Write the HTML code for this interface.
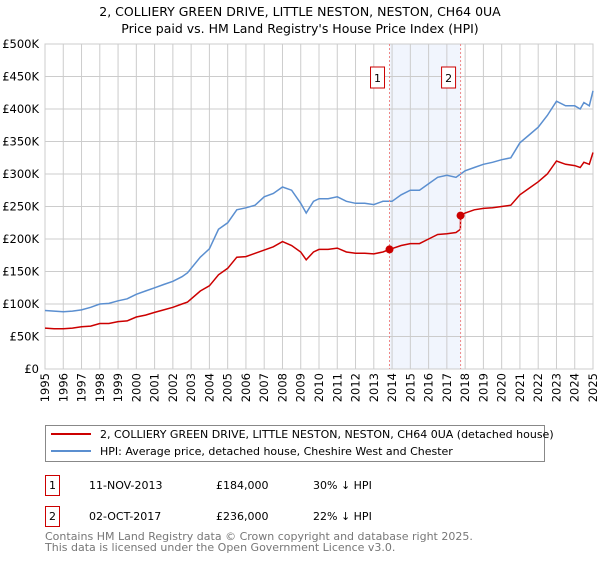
<!DOCTYPE html>
<html><head><meta charset="utf-8"><style>
body{margin:0;background:#fff;font-family:"Liberation Sans","DejaVu Sans",sans-serif}
svg text{font-family:"DejaVu Sans","Liberation Sans",sans-serif}
</style></head><body>
<svg id="c" width="600" height="560" xmlns="http://www.w3.org/2000/svg">
<text x="300" y="16" text-anchor="middle" font-size="12.5">2, COLLIERY GREEN DRIVE, LITTLE NESTON, NESTON, CH64 0UA</text>
<text x="300" y="33" text-anchor="middle" font-size="12.5">Price paid vs. HM Land Registry's House Price Index (HPI)</text>
<g id="grid"></g><g id="series"></g><g id="marks"></g>
<rect x="45.5" y="425.5" width="499" height="36" fill="#fff" stroke="#888"/>
<line x1="51" y1="434" x2="91" y2="434" stroke="#cc0000" stroke-width="2"/>
<text x="100" y="438" font-size="11">2, COLLIERY GREEN DRIVE, LITTLE NESTON, NESTON, CH64 0UA (detached house)</text>
<line x1="51" y1="451" x2="91" y2="451" stroke="#5b8fd0" stroke-width="2"/>
<text x="100" y="455" font-size="11">HPI: Average price, detached house, Cheshire West and Chester</text>
<rect x="45.5" y="475.5" width="14" height="20" fill="none" stroke="#cc0000"/>
<text x="52.5" y="489" font-size="11" text-anchor="middle">1</text>
<text x="89" y="489" font-size="11">11-NOV-2013</text>
<text x="216" y="489" font-size="11">£184,000</text>
<text x="313" y="489" font-size="11">30% ↓ HPI</text>
<rect x="45.5" y="506.5" width="14" height="20" fill="none" stroke="#cc0000"/>
<text x="52.5" y="520" font-size="11" text-anchor="middle">2</text>
<text x="89" y="520" font-size="11">02-OCT-2017</text>
<text x="216" y="520" font-size="11">£236,000</text>
<text x="313" y="520" font-size="11">22% ↓ HPI</text>
<text x="45" y="540" font-size="11" fill="#777">Contains HM Land Registry data © Crown copyright and database right 2025.</text>
<text x="45" y="551" font-size="11" fill="#777">This data is licensed under the Open Government Licence v3.0.</text>
</svg>
<script>
const yearTicks=[1995,1996,1997,1998,1999,2000,2001,2002,2003,2004,2005,2006,2007,2008,2009,2010,2011,2012,2013,2014,2015,2016,2017,2018,2019,2020,2021,2022,2023,2024,2025];
const yTicks=[0,50,100,150,200,250,300,350,400,450,500];
const yTickLabels=["£0","£50K","£100K","£150K","£200K","£250K","£300K","£350K","£400K","£450K","£500K"];
const hpiDates=[1995,1995.5,1996,1996.5,1997,1997.5,1998,1998.5,1999,1999.5,2000,2000.5,2001,2001.5,2002,2002.5,2002.8,2003.5,2004,2004.5,2005,2005.5,2006,2006.5,2007,2007.5,2008,2008.5,2009,2009.3,2009.7,2010,2010.5,2011,2011.5,2012,2012.5,2013,2013.5,2014,2014.5,2015,2015.5,2016,2016.5,2017,2017.5,2018,2018.5,2019,2019.5,2020,2020.5,2021,2021.5,2022,2022.5,2023,2023.5,2024,2024.3,2024.5,2024.8,2025];
const hpiValues=[90,89,88,89,91,95,100,101,105,108,115,120,125,130,135,142,148,172,185,215,225,245,248,252,265,270,280,275,255,240,258,262,262,265,258,255,255,253,258,258,268,275,275,285,295,298,295,305,310,315,318,322,325,348,360,372,390,412,405,405,400,410,405,428];
const ppDates=[1995,1995.5,1996,1996.5,1997,1997.5,1998,1998.5,1999,1999.5,2000,2000.5,2001,2001.5,2002,2002.5,2002.8,2003.5,2004,2004.5,2005,2005.5,2006,2006.5,2007,2007.5,2008,2008.5,2009,2009.3,2009.7,2010,2010.5,2011,2011.5,2012,2012.5,2013,2013.5,2013.86,2014.5,2015,2015.5,2016,2016.5,2017,2017.5,2017.74,2017.75,2018,2018.5,2019,2019.5,2020,2020.5,2021,2021.5,2022,2022.5,2023,2023.5,2024,2024.3,2024.5,2024.8,2025];
const ppValues=[63,62,62,63,65,66,70,70,73,74,80,83,87,91,95,100,103,120,128,145,155,172,173,178,183,188,196,190,180,168,180,184,184,186,180,178,178,177,180,184,190,193,193,200,207,208,210,215,236,240,245,247,248,250,252,268,278,288,300,320,315,313,310,318,315,333];
const saleDates=[2013.86,2017.75];
const salePrices=[184,236];
const saleLabels=["1","2"];
const X0=45,X1=593,Y0=369,Y1=44;
const xs=d=>X0+(d-1995)/30*(X1-X0);
const ys=v=>Y0-v/500*(Y0-Y1);
const NS="http://www.w3.org/2000/svg";
function mk(tag,attrs,parent,txt){const e=document.createElementNS(NS,tag);for(const k in attrs)e.setAttribute(k,attrs[k]);if(txt!==undefined)e.textContent=txt;document.getElementById(parent).appendChild(e);return e;}
const band=mk('rect',{x:xs(saleDates[0]),y:Y1,width:xs(saleDates[1])-xs(saleDates[0]),height:Y0-Y1,fill:'#eef3fc',opacity:0.8},'grid');


yearTicks.forEach(y=>{
 const l=mk('line',{x1:xs(y),x2:xs(y),y1:Y1,y2:Y0,stroke:'#ccc'},'grid');
 
 
 const t=mk('text',{x:0,y:0,'font-size':11.5,'text-anchor':'end',transform:`translate(${xs(y)+4},${Y0+4}) rotate(-90)`},'grid',String(y));
 
 
});
yTicks.forEach((v,i)=>{
 const l=mk('line',{x1:X0,x2:X1,y1:ys(v),y2:ys(v),stroke:'#ccc'},'grid');
 
 
 const t=mk('text',{x:39,y:ys(v)+4,'font-size':11.5,'text-anchor':'end'},'grid',yTickLabels[i]);
 
 
});
const ax=mk('rect',{x:X0,y:Y1,width:X1-X0,height:Y0-Y1,fill:'none',stroke:'#ccc'},'grid');


const hp=mk('path',{d:hpiDates.map((d,i)=>(i?'L':'M')+xs(d).toFixed(1)+','+ys(hpiValues[i]).toFixed(1)).join(''),fill:'none',stroke:'#5b8fd0','stroke-width':1.5},'series');


const pp=mk('path',{d:ppDates.map((d,i)=>(i?'L':'M')+xs(d).toFixed(1)+','+ys(ppValues[i]).toFixed(1)).join(''),fill:'none',stroke:'#cc0000','stroke-width':1.5},'series');


saleDates.forEach((d,i)=>{
 const vl=mk('line',{x1:xs(d),x2:xs(d),y1:Y1,y2:Y0,stroke:'#e88','stroke-dasharray':'2,2'},'marks');
 
 
 const c=mk('circle',{cx:xs(d),cy:ys(salePrices[i]),r:4,fill:'#cc0000'},'marks');
 
 
 const b=mk('rect',{x:xs(d)-19,y:67,width:14,height:21,fill:'#fff',stroke:'#cc0000'},'marks');
 
 
 const t=mk('text',{x:xs(d)-12,y:82,'font-size':11,'text-anchor':'middle'},'marks',saleLabels[i]);
 
 
});
</script>
</body></html>
